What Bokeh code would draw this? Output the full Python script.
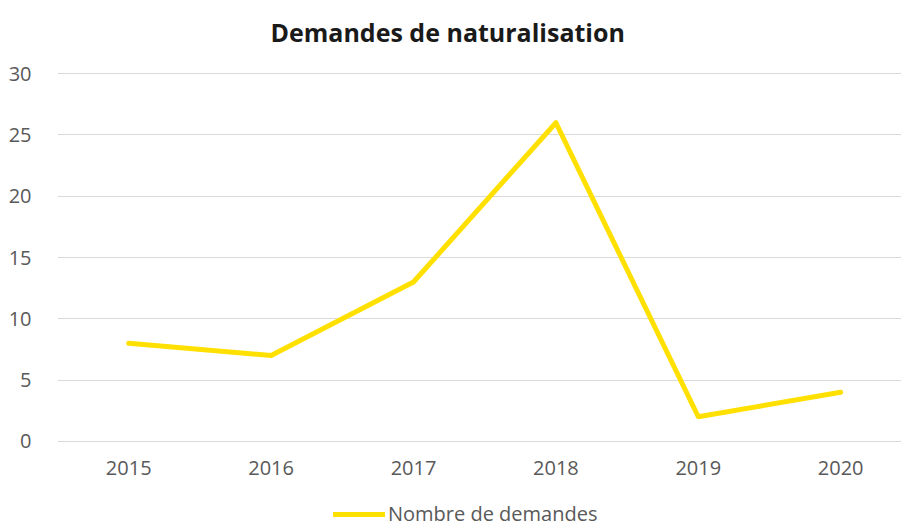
from bokeh.plotting import figure
from bokeh.layouts import column
from bokeh.models import FixedTicker, Legend, LegendItem, Range1d, Title
from bokeh.embed import file_html
from bokeh.resources import INLINE

years = ["2015", "2016", "2017", "2018", "2019", "2020"]
demandes = [8, 7, 13, 26, 2, 4]
y_ticks = [0, 5, 10, 15, 20, 25, 30]
title_text = "Demandes de naturalisation"
series_name = "Nombre de demandes"

FONT = "Open Sans"
GRAY = "#595959"
YELLOW = "#FFE000"

xpos = [i + 0.5 for i in range(len(years))]

p = figure(width=901, height=490, output_backend="svg", toolbar_location=None,
           x_range=Range1d(0, 5.927), y_range=Range1d(-0.1, 30.1),
           min_border_left=57, min_border_right=0, min_border_top=72, min_border_bottom=48)

p.title.text = title_text
p.title.align = "left"
p.title.offset = 213
p.title.text_font = FONT
p.title.text_font_size = "25px"
p.title.text_font_style = "bold"
p.title.text_color = "#1a1a1a"

# blank spacer between the title and the plot area
p.add_layout(Title(text=" ", text_font=FONT, text_font_size="12px", standoff=0), "above")

p.line(xpos, demandes, line_color=YELLOW, line_width=5,
       line_cap="round", line_join="round")

p.outline_line_color = None
p.xgrid.grid_line_color = None
p.ygrid.grid_line_color = "#d9d9d9"
p.ygrid.grid_line_width = 1.2
p.yaxis.ticker = FixedTicker(ticks=y_ticks)
p.xaxis.ticker = FixedTicker(ticks=xpos)
p.xaxis.major_label_overrides = {x: y for x, y in zip(xpos, years)}
for ax in (p.xaxis[0], p.yaxis[0]):
    ax.axis_line_color = None
    ax.major_tick_line_color = None
    ax.minor_tick_line_color = None
    ax.major_label_text_font = FONT
    ax.major_label_text_font_size = "20px"
    ax.major_label_text_color = GRAY
p.yaxis.major_label_standoff = 20
p.xaxis.major_label_standoff = 12

# legend strip below the chart (its own sample line kept out of view)
lg = figure(width=901, height=37, output_backend="svg", toolbar_location=None,
            x_range=Range1d(0, 1), y_range=Range1d(1000, 1001),
            min_border=0, outline_line_color=None)
lg.axis.visible = False
lg.grid.visible = False
sample = lg.line(xpos, demandes, line_color=YELLOW, line_width=5, line_cap="round")
legend = Legend(items=[LegendItem(label=series_name, renderers=[sample])],
                orientation="horizontal", location=(276, 0),
                label_text_font=FONT, label_text_font_size="20px",
                label_text_color=GRAY, glyph_width=52, label_standoff=3,
                border_line_color=None, background_fill_alpha=0, padding=0, margin=0)
lg.add_layout(legend, "center")

layout = column(p, lg, spacing=0)
open("out.html", "w").write(file_html(layout, INLINE))
